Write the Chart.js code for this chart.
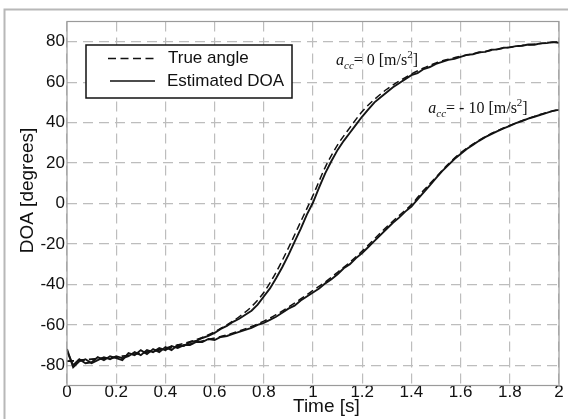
<!DOCTYPE html>
<html><head><meta charset="utf-8">
<script src="https://cdn.jsdelivr.net/npm/chart.js@4/dist/chart.umd.min.js"></script>
<style>html,body{margin:0;padding:0;background:#fff;overflow:hidden}</style>
</head><body>
<canvas id="c" width="568" height="419"></canvas>
<script>
// ---- data ----
const timeTrue = [0,0.05,0.1,0.15,0.2,0.25,0.3,0.35,0.4,0.45,0.5,0.55,0.6,0.65,0.7,0.75,0.8,0.85,0.9,0.95,1,1.05,1.1,1.15,1.2,1.25,1.3,1.35,1.4,1.45,1.5,1.55,1.6,1.65,1.7,1.75,1.8,1.85,1.9,1.95,2];
const trueAngleAcc0 = [-78,-77.5,-77,-76.5,-76,-75,-74,-72.8,-71.5,-70,-68.3,-66.2,-63.5,-60,-56,-51,-44,-34,-22,-9,4,18,29,37.5,45.5,51.5,56.5,60.5,64,67,69.5,71.3,72.8,74,75.2,76.3,77.3,78.1,78.8,79.4,80];
const trueAngleAccM10 = [-78,-77.5,-77,-76.5,-76,-75,-74,-73,-72,-70.8,-69.5,-68,-66.5,-65,-63,-60.8,-58.2,-55,-51.2,-47.2,-43,-38.8,-34,-29,-23.5,-17.5,-11.5,-6,-0.5,6.5,13,19.5,25,29.3,33,36,38.6,41,43.1,45,46.5];
const timeEst = [0,0.025,0.05,0.075,0.1,0.125,0.15,0.175,0.2,0.225,0.25,0.275,0.3,0.325,0.35,0.375,0.4,0.425,0.45,0.475,0.5,0.525,0.55,0.575,0.6,0.625,0.65,0.675,0.7,0.725,0.75,0.775,0.8,0.825,0.85,0.875,0.9,0.925,0.95,0.975,1,1.025,1.05,1.075,1.1,1.125,1.15,1.175,1.2,1.225,1.25,1.275,1.3,1.325,1.35,1.375,1.4,1.425,1.45,1.475,1.5,1.525,1.55,1.575,1.6,1.625,1.65,1.675,1.7,1.725,1.75,1.775,1.8,1.825,1.85,1.875,1.9,1.925,1.95,1.975,2];
const estDoaAcc0 = [-73,-80,-77,-79,-78.5,-76,-77.5,-75.5,-76.5,-77.5,-74,-75,-72.5,-74.5,-72,-73.5,-71,-72.5,-70,-70.5,-68.5,-68,-66.5,-65.5,-64,-62,-60.5,-58.5,-57,-55,-53,-50,-46,-42,-37,-31.5,-25.5,-19,-12.5,-5.5,0.5,8,15,21,26.5,31,35,39,43,46.5,50,52.5,55,57.5,59.5,61.5,63.5,64.5,66.5,67.5,69,70,71,71.5,72.5,73.5,73.8,74.8,75,76,76.2,77,77.2,77.8,78,78.6,78.5,79.2,79.3,79.8,79.5];
const estDoaAccM10 = [-72,-81,-78,-77,-79,-77.5,-76,-77,-75.5,-76.5,-75.5,-73.5,-75,-72.5,-73.5,-71.5,-72.5,-70.5,-71.5,-70,-70,-68.5,-68.5,-67,-67.5,-66,-65.5,-64.5,-63.5,-62.5,-61.5,-60,-59,-57.5,-56,-54,-52,-50.5,-48,-46,-44,-42,-39.5,-37.5,-35,-32,-30,-27,-24.5,-21.5,-18.5,-15.5,-12.5,-9.5,-7,-4,-1.5,2,5.5,9,12.5,16,19,22,24.5,27,29,31,32.8,34.3,35.8,37.2,38.4,39.7,40.8,42,42.9,43.9,44.8,45.8,46.3];
const xTickValues = [0,0.2,0.4,0.6,0.8,1,1.2,1.4,1.6,1.8,2];
const yTickValues = [-80,-60,-40,-20,0,20,40,60,80];
const legendLabels = ['True angle','Estimated DOA'];
const xTitle = 'Time [s]';
const yTitle = 'DOA [degrees]';
const accLabels = ['0','- 10'];

const pts = (xs, ys) => xs.map((x, i) => ({x: x, y: ys[i]}));

const FONT = '"Liberation Sans", Arial, Helvetica, sans-serif';
const SERIF = '"Liberation Serif", "Times New Roman", serif';

const decor = {
  id: 'decor',
  beforeDraw(chart) {
    const ctx = chart.ctx;
    ctx.save();
    ctx.fillStyle = '#fff';
    ctx.fillRect(0, 0, chart.width, chart.height);
    ctx.strokeStyle = '#b8b8b8';
    ctx.lineWidth = 2;
    ctx.beginPath();
    ctx.moveTo(4.5, 419); ctx.lineTo(4.5, 9.5); ctx.lineTo(568, 9.5);
    ctx.stroke();
    ctx.restore();
  },
  afterDraw(chart) {
    const ctx = chart.ctx;
    const a = chart.chartArea;
    ctx.save();
    // plot box
    ctx.strokeStyle = '#9a9a9a';
    ctx.lineWidth = 1.2;
    ctx.strokeRect(a.left, a.top, a.right - a.left, a.bottom - a.top);
    // axis titles
    ctx.fillStyle = '#111';
    ctx.font = '19px ' + FONT;
    ctx.textAlign = 'left';
    ctx.textBaseline = 'alphabetic';
    ctx.fillText(xTitle, 293, 412);
    ctx.save();
    ctx.translate(33, 190.5);
    ctx.rotate(-Math.PI / 2);
    ctx.textAlign = 'center';
    ctx.fillText(yTitle, 0, 0);
    ctx.restore();
    // legend
    ctx.fillStyle = '#fff';
    ctx.fillRect(86, 45, 206, 53);
    ctx.strokeStyle = '#111';
    ctx.lineWidth = 1.5;
    ctx.strokeRect(86, 45, 206, 53);
    ctx.beginPath();
    ctx.setLineDash([8, 4.5]);
    ctx.moveTo(108, 58.5); ctx.lineTo(155, 58.5);
    ctx.stroke();
    ctx.setLineDash([]);
    ctx.beginPath();
    ctx.moveTo(110, 81); ctx.lineTo(155, 81);
    ctx.stroke();
    ctx.fillStyle = '#111';
    ctx.font = '17px ' + FONT;
    ctx.textBaseline = 'middle';
    ctx.fillText(legendLabels[0], 168, 58.5);
    ctx.fillText(legendLabels[1], 167, 81);
    // acc annotations
    const xs = chart.scales.x, ys = chart.scales.y;
    const drawAcc = (t, v, val) => {
      let x = xs.getPixelForValue(t), y = ys.getPixelForValue(v);
      ctx.textBaseline = 'alphabetic';
      ctx.font = 'italic 16px ' + SERIF; ctx.fillText('a', x, y); x += ctx.measureText('a').width;
      ctx.font = 'italic 11px ' + SERIF; ctx.fillText('cc', x, y + 4); x += ctx.measureText('cc').width;
      ctx.font = '16px ' + SERIF; const s = '= ' + val + ' [m/s'; ctx.fillText(s, x, y); x += ctx.measureText(s).width;
      ctx.font = '11px ' + SERIF; ctx.fillText('2', x, y - 7); x += ctx.measureText('2').width;
      ctx.font = '16px ' + SERIF; ctx.fillText(']', x, y);
    };
    drawAcc(1.0935, 68.5, accLabels[0]);
    drawAcc(1.4687, 44.6, accLabels[1]);
    ctx.restore();
  }
};

new Chart(document.getElementById('c'), {
  type: 'line',
  data: {
    datasets: [
      {label: 'True angle a=0', data: pts(timeTrue, trueAngleAcc0), borderColor: '#111', borderWidth: 1.5, borderDash: [7, 4], cubicInterpolationMode: 'monotone'},
      {label: 'Estimated DOA a=0', data: pts(timeEst, estDoaAcc0), borderColor: '#151515', borderWidth: 1.9},
      {label: 'True angle a=-10', data: pts(timeTrue, trueAngleAccM10), borderColor: '#111', borderWidth: 1.5, borderDash: [7, 4], cubicInterpolationMode: 'monotone'},
      {label: 'Estimated DOA a=-10', data: pts(timeEst, estDoaAccM10), borderColor: '#151515', borderWidth: 1.9}
    ]
  },
  options: {
    responsive: false,
    animation: false,
    devicePixelRatio: 1,
    layout: {padding: {left: 0, right: 9, top: 21.5, bottom: 0}},
    plugins: {legend: {display: false}, tooltip: {enabled: false}},
    elements: {point: {radius: 0}, line: {tension: 0, fill: false}},
    scales: {
      x: {
        type: 'linear', min: 0, max: 2,
        afterBuildTicks: s => { s.ticks = xTickValues.map(v => ({value: v})); },
        afterFit: s => { s.height = 33.5; },
        ticks: {color: '#111', font: {family: FONT, size: 17}, padding: -3, maxRotation: 0, autoSkip: false,
                callback: v => String(+Number(v).toFixed(1))},
        grid: {color: '#bdbdbd', lineWidth: 1.2, drawTicks: false},
        border: {display: false, dash: [10, 6]}
      },
      y: {
        type: 'linear', min: -90, max: 90,
        afterBuildTicks: s => { s.ticks = yTickValues.map(v => ({value: v})); },
        afterFit: s => { s.width = 67; },
        ticks: {color: '#111', font: {family: FONT, size: 17}, padding: 2, autoSkip: false,
                callback: v => String(v)},
        grid: {color: '#bdbdbd', lineWidth: 1.2, drawTicks: false},
        border: {display: false, dash: [10, 6]}
      }
    }
  },
  plugins: [decor]
});
</script>
</body></html>
